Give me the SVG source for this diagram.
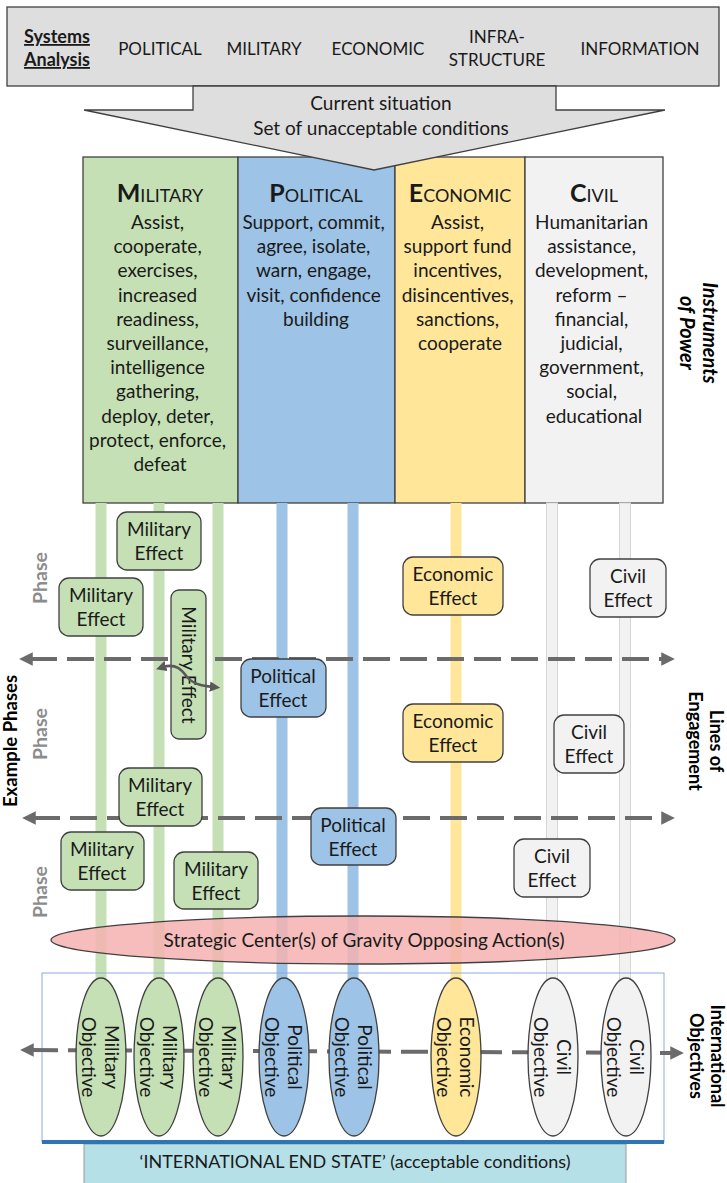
<svg xmlns="http://www.w3.org/2000/svg" width="727" height="1183" viewBox="0 0 727 1183">
  <defs>
    <style>
      text { font-family: Lato, "Open Sans", "Liberation Sans", sans-serif; fill: #1a1a1a; }
      .t { font-size: 19px; text-anchor: middle; }
      .cap { font-size: 17px; text-anchor: middle; }
      .lbl { font-size: 18px; font-weight: bold; text-anchor: middle; fill: #000; }
      .phase { font-size: 19.5px; font-weight: bold; text-anchor: middle; fill: #8c8c8c; }
      .box { stroke: #404040; stroke-width: 1.3; }
      .mil { fill: #c5e0b4; }
      .pol { fill: #9dc3e6; }
      .eco { fill: #ffe699; }
      .civ { fill: #f2f2f2; }
      .lane-civ { fill: #f2f2f2; stroke: #d6d6d6; stroke-width: 1; }
      .dash { stroke: #6b6b6b; stroke-width: 4; stroke-dasharray: 27 10; fill: none; }
    </style>
    <marker id="head" viewBox="0 0 10 10" refX="2" refY="5" markerWidth="3.4" markerHeight="3.8" orient="auto-start-reverse" markerUnits="strokeWidth">
      <path d="M0,0 L10,5 L0,10 Z" fill="#6b6b6b"/>
    </marker>
    <marker id="small" viewBox="0 0 10 10" refX="3" refY="5" markerWidth="4" markerHeight="4" orient="auto-start-reverse" markerUnits="strokeWidth">
      <path d="M0,0 L10,5 L0,10 Z" fill="#595959"/>
    </marker>
  </defs>

  <!-- systems analysis banner -->
  <g id="systems-analysis">
    <rect x="7" y="7" width="712" height="79" fill="#dedede" class="box"/>
    <text x="57" y="43" class="lbl" style="text-decoration: underline; fill:#1a1a1a">Systems</text>
    <text x="57" y="66" class="lbl" style="text-decoration: underline; fill:#1a1a1a">Analysis</text>
    <text x="160" y="55" class="cap">POLITICAL</text>
    <text x="264" y="55" class="cap">MILITARY</text>
    <text x="378" y="55" class="cap">ECONOMIC</text>
    <text x="497" y="43" class="cap">INFRA-</text>
    <text x="497" y="66" class="cap">STRUCTURE</text>
    <text x="640" y="55" class="cap">INFORMATION</text>
  </g>

  <!-- instruments of power columns -->
  <g id="col-military">
    <rect x="83" y="157" width="155" height="346" class="box mil"/>
    <text x="160" y="202" text-anchor="middle"><tspan font-size="25" font-weight="bold">M</tspan><tspan font-size="18">ILITARY</tspan></text>
    <text class="t">
      <tspan x="160" y="229">Assist,</tspan>
      <tspan x="160" y="253">cooperate,</tspan>
      <tspan x="160" y="277">exercises,</tspan>
      <tspan x="160" y="302">increased</tspan>
      <tspan x="160" y="326">readiness,</tspan>
      <tspan x="160" y="350">surveillance,</tspan>
      <tspan x="160" y="374">intelligence</tspan>
      <tspan x="160" y="398">gathering,</tspan>
      <tspan x="160" y="423">deploy, deter,</tspan>
      <tspan x="160" y="447">protect, enforce,</tspan>
      <tspan x="160" y="471">defeat</tspan>
    </text>
  </g>
  <g id="col-political">
    <rect x="238" y="157" width="157" height="346" class="box pol"/>
    <text x="316" y="202" text-anchor="middle"><tspan font-size="25" font-weight="bold">P</tspan><tspan font-size="18">OLITICAL</tspan></text>
    <text class="t">
      <tspan x="316" y="229">Support, commit,</tspan>
      <tspan x="316" y="253">agree, isolate,</tspan>
      <tspan x="316" y="277">warn, engage,</tspan>
      <tspan x="316" y="302">visit, confidence</tspan>
      <tspan x="316" y="326">building</tspan>
    </text>
  </g>
  <g id="col-economic">
    <rect x="395" y="157" width="130" height="346" class="box eco"/>
    <text x="460" y="202" text-anchor="middle"><tspan font-size="25" font-weight="bold">E</tspan><tspan font-size="18">CONOMIC</tspan></text>
    <text class="t">
      <tspan x="460" y="229">Assist,</tspan>
      <tspan x="460" y="253">support fund</tspan>
      <tspan x="460" y="277">incentives,</tspan>
      <tspan x="460" y="302">disincentives,</tspan>
      <tspan x="460" y="326">sanctions,</tspan>
      <tspan x="460" y="350">cooperate</tspan>
    </text>
  </g>
  <g id="col-civil">
    <rect x="525" y="157" width="138" height="346" class="box civ"/>
    <text x="594" y="202" text-anchor="middle"><tspan font-size="25" font-weight="bold">C</tspan><tspan font-size="18">IVIL</tspan></text>
    <text class="t">
      <tspan x="594" y="229">Humanitarian</tspan>
      <tspan x="594" y="253">assistance,</tspan>
      <tspan x="594" y="277">development,</tspan>
      <tspan x="594" y="302">reform –</tspan>
      <tspan x="594" y="326">financial,</tspan>
      <tspan x="594" y="350">judicial,</tspan>
      <tspan x="594" y="374">government,</tspan>
      <tspan x="594" y="398">social,</tspan>
      <tspan x="594" y="423">educational</tspan>
    </text>
  </g>

  <!-- current situation arrow -->
  <g id="current-situation">
    <path d="M193,86 L556,86 L556,110 L665,110 L374,170 L84,110 L193,110 Z" fill="#dedede" class="box"/>
    <text x="381" y="110" class="t">Current situation</text>
    <text x="381" y="135" class="t">Set of unacceptable conditions</text>
  </g>

  <!-- lines of engagement lanes -->
  <g id="lanes">
    <rect x="95.5" y="503" width="11" height="487" class="mil"/>
    <rect x="153.5" y="503" width="11" height="487" class="mil"/>
    <rect x="212.5" y="503" width="11" height="487" class="mil"/>
    <rect x="276.5" y="503" width="11" height="487" class="pol"/>
    <rect x="347.5" y="503" width="11" height="487" class="pol"/>
    <rect x="450.5" y="503" width="11" height="487" class="eco"/>
    <rect x="546.5" y="503" width="11" height="487" class="lane-civ"/>
    <rect x="619.5" y="503" width="11" height="487" class="lane-civ"/>
  </g>

  <!-- phase boundaries -->
  <g id="connectors">
    <line x1="30" y1="659" x2="664" y2="659" class="dash" marker-start="url(#head)" marker-end="url(#head)"/>
    <line x1="33" y1="818" x2="664" y2="818" class="dash" marker-start="url(#head)" marker-end="url(#head)"/>
  </g>

  <!-- effects -->
  <g id="mil-effect-1">
    <rect x="117" y="512" width="84" height="58" rx="10" class="box mil"/>
    <text class="t"><tspan x="159" y="536">Military</tspan><tspan x="159" y="560">Effect</tspan></text>
  </g>
  <g id="mil-effect-2">
    <rect x="59" y="578" width="84" height="58" rx="10" class="box mil"/>
    <text class="t"><tspan x="101" y="602">Military</tspan><tspan x="101" y="626">Effect</tspan></text>
  </g>
  <g id="mil-effect-3">
    <rect x="171" y="590" width="35" height="149" rx="8" class="box mil"/>
    <text class="t" transform="translate(188,665) rotate(90)" x="0" y="6">Military Effect</text>
  </g>
  <g id="pol-effect-1">
    <rect x="241" y="659" width="85" height="58" rx="10" class="box pol"/>
    <text class="t"><tspan x="283" y="683">Political</tspan><tspan x="283" y="707">Effect</tspan></text>
  </g>
  <g id="mil-effect-4">
    <rect x="119" y="768" width="83" height="58" rx="10" class="box mil"/>
    <text class="t"><tspan x="160" y="792">Military</tspan><tspan x="160" y="816">Effect</tspan></text>
  </g>
  <g id="pol-effect-2">
    <rect x="311" y="808" width="85" height="57" rx="10" class="box pol"/>
    <text class="t"><tspan x="353" y="832">Political</tspan><tspan x="353" y="856">Effect</tspan></text>
  </g>
  <g id="mil-effect-5">
    <rect x="61" y="832" width="83" height="58" rx="10" class="box mil"/>
    <text class="t"><tspan x="102" y="856">Military</tspan><tspan x="102" y="880">Effect</tspan></text>
  </g>
  <g id="mil-effect-6">
    <rect x="174" y="852" width="84" height="57" rx="10" class="box mil"/>
    <text class="t"><tspan x="216" y="876">Military</tspan><tspan x="216" y="900">Effect</tspan></text>
  </g>
  <g id="eco-effect-1">
    <rect x="403" y="557" width="100" height="58" rx="10" class="box eco"/>
    <text class="t"><tspan x="453" y="581">Economic</tspan><tspan x="453" y="605">Effect</tspan></text>
  </g>
  <g id="eco-effect-2">
    <rect x="403" y="704" width="100" height="58" rx="10" class="box eco"/>
    <text class="t"><tspan x="453" y="728">Economic</tspan><tspan x="453" y="752">Effect</tspan></text>
  </g>
  <g id="civ-effect-1">
    <rect x="590" y="559" width="76" height="58" rx="10" class="box civ"/>
    <text class="t"><tspan x="628" y="583">Civil</tspan><tspan x="628" y="607">Effect</tspan></text>
  </g>
  <g id="civ-effect-2">
    <rect x="554" y="715" width="70" height="58" rx="10" class="box civ"/>
    <text class="t"><tspan x="589" y="739">Civil</tspan><tspan x="589" y="763">Effect</tspan></text>
  </g>
  <g id="civ-effect-3">
    <rect x="514" y="839" width="76" height="58" rx="10" class="box civ"/>
    <text class="t"><tspan x="552" y="863">Civil</tspan><tspan x="552" y="887">Effect</tspan></text>
  </g>

  <!-- linked military effects -->
  <g id="effect-link">
    <path d="M163,667 C176,663 182,670 187,677 C194,685 204,686 213,687" fill="none" stroke="#595959" stroke-width="2.6" marker-start="url(#small)" marker-end="url(#small)"/>
  </g>

  <!-- phase labels -->
  <g id="phase-labels">
    <text class="phase" transform="translate(40,578) rotate(-90)" y="7">Phase</text>
    <text class="phase" transform="translate(40,734) rotate(-90)" y="7">Phase</text>
    <text class="phase" transform="translate(40,892) rotate(-90)" y="7">Phase</text>
    <text class="lbl" style="font-size:18.5px" transform="translate(12,741) rotate(-90)" y="5">Example Phases</text>
  </g>

  <!-- side labels -->
  <g id="side-labels">
    <text class="lbl" style="font-style: italic; font-size:20px" transform="translate(692,333) rotate(90)"><tspan x="0" y="-11">Instruments</tspan><tspan x="0" y="12">of Power</tspan></text>
    <text class="lbl" transform="translate(700,741) rotate(90)"><tspan x="0" y="-10">Lines of</tspan><tspan x="0" y="11">Engagement</tspan></text>
    <text class="lbl" transform="translate(701,1056) rotate(90)"><tspan x="0" y="-10">International</tspan><tspan x="0" y="11">Objectives</tspan></text>
  </g>

  <!-- centre of gravity -->
  <g id="centre-of-gravity">
    <ellipse cx="363" cy="940" rx="312" ry="24" fill="#f4b2b0" fill-opacity="0.85" class="box"/>
    <text x="364" y="947" class="t">Strategic Center(s) of Gravity Opposing Action(s)</text>
  </g>

  <!-- international end state -->
  <g id="end-state">
    <rect x="84" y="1144" width="542" height="46" fill="#b6e0e7" stroke="#9a9a9a" stroke-width="1"/>
    <text x="355" y="1168" class="t" style="font-size:18px">‘INTERNATIONAL END STATE’ (acceptable conditions)</text>
  </g>

  <!-- international objectives -->
  <g id="objectives-frame">
    <rect x="42" y="973" width="622" height="169" fill="none" stroke="#8eaadb" stroke-width="1"/>
    <line x1="42" y1="1142" x2="664" y2="1142" stroke="#2e75b6" stroke-width="4"/>
  </g>
  <g id="objectives-line">
    <line x1="31" y1="1050" x2="673" y2="1053" class="dash" marker-start="url(#head)" marker-end="url(#head)"/>
  </g>
  <g id="obj-mil-1">
    <ellipse cx="101" cy="1057" rx="25" ry="79" class="box mil"/>
    <text class="t" transform="translate(101,1057) rotate(90)"><tspan x="0" y="-4">Military</tspan><tspan x="0" y="19">Objective</tspan></text>
  </g>
  <g id="obj-mil-2">
    <ellipse cx="159" cy="1057" rx="25" ry="79" class="box mil"/>
    <text class="t" transform="translate(159,1057) rotate(90)"><tspan x="0" y="-4">Military</tspan><tspan x="0" y="19">Objective</tspan></text>
  </g>
  <g id="obj-mil-3">
    <ellipse cx="218" cy="1057" rx="25" ry="79" class="box mil"/>
    <text class="t" transform="translate(218,1057) rotate(90)"><tspan x="0" y="-4">Military</tspan><tspan x="0" y="19">Objective</tspan></text>
  </g>
  <g id="obj-pol-1">
    <ellipse cx="284" cy="1057" rx="25" ry="79" class="box pol"/>
    <text class="t" transform="translate(284,1057) rotate(90)"><tspan x="0" y="-4">Political</tspan><tspan x="0" y="19">Objective</tspan></text>
  </g>
  <g id="obj-pol-2">
    <ellipse cx="354" cy="1057" rx="25" ry="79" class="box pol"/>
    <text class="t" transform="translate(354,1057) rotate(90)"><tspan x="0" y="-4">Political</tspan><tspan x="0" y="19">Objective</tspan></text>
  </g>
  <g id="obj-eco">
    <ellipse cx="456" cy="1057" rx="25" ry="79" class="box eco"/>
    <text class="t" transform="translate(456,1057) rotate(90)"><tspan x="0" y="-4">Economic</tspan><tspan x="0" y="19">Objective</tspan></text>
  </g>
  <g id="obj-civ-1">
    <ellipse cx="553" cy="1057" rx="25" ry="79" class="box civ"/>
    <text class="t" transform="translate(553,1057) rotate(90)"><tspan x="0" y="-4">Civil</tspan><tspan x="0" y="19">Objective</tspan></text>
  </g>
  <g id="obj-civ-2">
    <ellipse cx="626" cy="1057" rx="25" ry="79" class="box civ"/>
    <text class="t" transform="translate(626,1057) rotate(90)"><tspan x="0" y="-4">Civil</tspan><tspan x="0" y="19">Objective</tspan></text>
  </g>
</svg>
